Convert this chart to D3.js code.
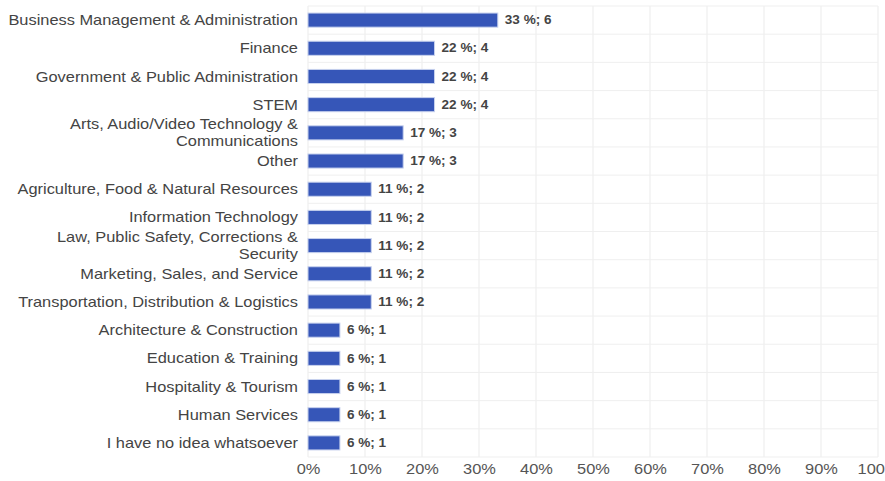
<!DOCTYPE html>
<html>
<head>
<meta charset="utf-8">
<script src="https://cdn.jsdelivr.net/npm/d3@7"></script>
<style>
  body { margin: 0; background: #fff; }
  svg { font-family: Arial, "Liberation Sans", sans-serif; }
</style>
</head>
<body>
<svg id="chart" width="885" height="481"></svg>
<script>
// categories, top to bottom (each entry is a list of label lines)
const categories = [
  ["Business Management & Administration"],
  ["Finance"],
  ["Government & Public Administration"],
  ["STEM"],
  ["Arts, Audio/Video Technology &", "Communications"],
  ["Other"],
  ["Agriculture, Food & Natural Resources"],
  ["Information Technology"],
  ["Law, Public Safety, Corrections &", "Security"],
  ["Marketing, Sales, and Service"],
  ["Transportation, Distribution & Logistics"],
  ["Architecture & Construction"],
  ["Education & Training"],
  ["Hospitality & Tourism"],
  ["Human Services"],
  ["I have no idea whatsoever"]
];
const percents = [33.3, 22.2, 22.2, 22.2, 16.7, 16.7, 11.1, 11.1, 11.1, 11.1, 11.1, 5.6, 5.6, 5.6, 5.6, 5.6];
const pctLabels = [33, 22, 22, 22, 17, 17, 11, 11, 11, 11, 11, 6, 6, 6, 6, 6];
const counts = [6, 4, 4, 4, 3, 3, 2, 2, 2, 2, 2, 1, 1, 1, 1, 1];
const xTicks = [0, 10, 20, 30, 40, 50, 60, 70, 80, 90, 100];

let svg = d3.select("#chart");
const margin = {left: 308, right: 7, top: 6, bottom: 24};
const width = 885 - margin.left - margin.right;
const height = 481 - margin.top - margin.bottom;
const stretch = 1.13; // text in the picture is a little wider than Arial

let g = svg.append("g").attr("transform", `translate(${margin.left},${margin.top})`);

let x = d3.scaleLinear().domain([0, 100]).range([0, width]);
let y = d3.scaleBand().domain(d3.range(categories.length)).range([0, height]).paddingInner(0.5).paddingOuter(0.25);

// grid lines
g.append("g")
  .selectAll("line")
  .data(xTicks)
  .enter().append("line")
    .attr("x1", d => x(d)).attr("x2", d => x(d))
    .attr("y1", 0).attr("y2", height)
    .style("stroke", "#ebebeb").style("stroke-width", 1);

const step = y.step();
const rowEdges = d3.range(categories.length + 1);
g.append("g")
  .selectAll("line")
  .data(rowEdges)
  .enter().append("line")
    .attr("x1", 0).attr("x2", width)
    .attr("y1", d => y(0) - step * 0.25 + d * step)
    .attr("y2", d => y(0) - step * 0.25 + d * step)
    .style("stroke", "#efefef").style("stroke-width", 1);

// bars
g.append("g")
  .selectAll("rect")
  .data(percents)
  .enter().append("rect")
    .attr("x", x(0))
    .attr("y", (d, i) => y(i))
    .attr("width", d => x(d) - x(0))
    .attr("height", y.bandwidth())
    .style("fill", "#3656b8")
    .style("stroke", "#c8d2ee")
    .style("stroke-width", 1);

// value labels
g.append("g")
  .selectAll("text")
  .data(percents)
  .enter().append("text")
    .attr("transform", (d, i) => `translate(${x(d) + 7},${y(i) + y.bandwidth() / 2}) scale(${stretch},1)`)
    .attr("dy", "0.35em")
    .style("font-size", "12px").style("font-weight", "bold").style("fill", "#444")
    .text((d, i) => `${pctLabels[i]} %; ${counts[i]}`);

// category labels
let cat = g.append("g")
  .selectAll("text")
  .data(categories)
  .enter().append("text")
    .attr("text-anchor", "end")
    .attr("transform", (d, i) => `translate(-10,${y(i) + y.bandwidth() / 2}) scale(${stretch},1)`)
    .style("font-size", "14.5px").style("fill", "#444");
cat.each(function (lines) {
  let t = d3.select(this);
  const lh = 17;
  const first = -(lines.length - 1) * lh / 2;
  lines.forEach((line, k) => {
    t.append("tspan")
      .attr("x", 0)
      .attr("dy", k === 0 ? (first / 14.5 + 0.35) + "em" : lh + "px")
      .text(line);
  });
});

// x axis
let xAxis = d3.axisBottom(x).tickValues(xTicks).tickFormat(d => d + "%").tickSize(0).tickPadding(7);
let ax = g.append("g").attr("transform", `translate(0,${height})`).call(xAxis);
ax.select(".domain").remove();
ax.selectAll("text")
  .attr("transform", `scale(${stretch},1)`)
  .style("font-size", "14.5px").style("fill", "#555").style("font-family", "Arial, 'Liberation Sans', sans-serif");
</script>
</body>
</html>
